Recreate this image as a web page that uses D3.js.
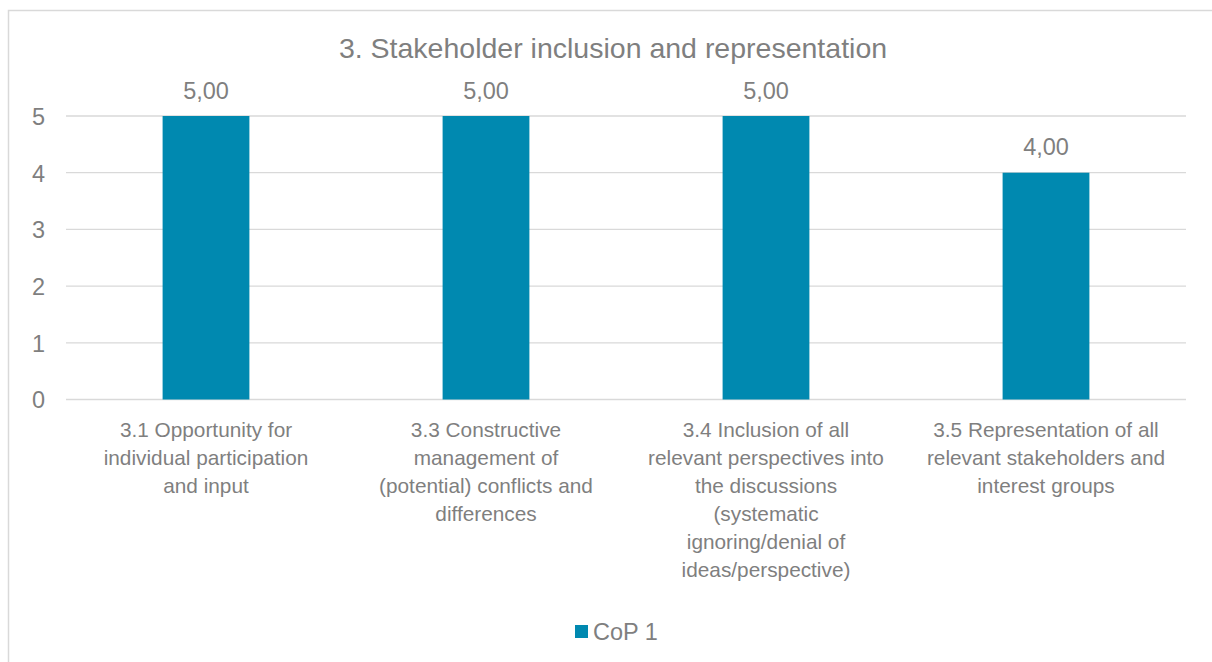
<!DOCTYPE html>
<html>
<head>
<meta charset="utf-8">
<script src="https://cdn.jsdelivr.net/npm/d3@7"></script>
<style>
  html, body { margin: 0; padding: 0; background: #fff; }
  svg { display: block; font-family: "Liberation Sans", Arial, sans-serif; }
</style>
</head>
<body>
<svg id="chart" width="1212" height="662"></svg>
<script>
// Chart data
const title = "3. Stakeholder inclusion and representation";
const categories = [
  "3.1 Opportunity for\nindividual participation\nand input",
  "3.3 Constructive\nmanagement of\n(potential) conflicts and\ndifferences",
  "3.4 Inclusion of all\nrelevant perspectives into\nthe discussions\n(systematic\nignoring/denial of\nideas/perspective)",
  "3.5 Representation of all\nrelevant stakeholders and\ninterest groups"
];
const values = [5, 5, 5, 4];
const seriesName = "CoP 1";
const yTicks = [0, 1, 2, 3, 4, 5];

const textColor = "#7f7f7f";
const barColor = "#0089b0";
const gridColor = "#d9d9d9";

const svg = d3.select("#chart");

// Outer chart border
svg.append("rect")
  .attr("x", 8.5).attr("y", 10.5)
  .attr("width", 1220).attr("height", 680)
  .attr("fill", "#fff")
  .attr("stroke", "#d9d9d9")
  .attr("stroke-width", 1.5);

const plot = { left: 66, right: 1186, top: 116, bottom: 399.5 };

const x = d3.scaleBand()
  .domain(categories)
  .range([plot.left, plot.right])
  .paddingInner(0.69)
  .paddingOuter(0.345);

const xBand = d3.scaleBand()
  .domain(categories)
  .range([plot.left, plot.right]);

const y = d3.scaleLinear()
  .domain([0, 5])
  .range([plot.bottom, plot.top]);

// Title
svg.append("text")
  .attr("x", 613).attr("y", 58)
  .attr("text-anchor", "middle")
  .attr("font-size", 28.5)
  .attr("fill", textColor)
  .text(title);

// Gridlines
svg.append("g")
  .selectAll("line")
  .data(yTicks)
  .join("line")
  .attr("x1", plot.left).attr("x2", plot.right)
  .attr("y1", d => y(d)).attr("y2", d => y(d))
  .attr("stroke", gridColor)
  .attr("stroke-width", 1.3);

// Y axis labels
const yAxis = d3.axisLeft(y).tickValues(yTicks).tickSize(0).tickPadding(0).tickFormat(d3.format("d"));
const yg = svg.append("g").attr("transform", `translate(45,0)`).call(yAxis);
yg.select(".domain").remove();
yg.selectAll("text")
  .attr("font-size", 23.5)
  .attr("font-family", "Liberation Sans, Arial, sans-serif")
  .attr("dy", "0.36em")
  .attr("fill", textColor);

// Bars
svg.append("g")
  .selectAll("rect")
  .data(values)
  .join("rect")
  .attr("x", (d, i) => x(categories[i]))
  .attr("width", x.bandwidth())
  .attr("y", d => y(d))
  .attr("height", d => y(0) - y(d))
  .attr("fill", barColor);

// Value labels
const fmt = d => d.toFixed(2).replace(".", ",");
svg.append("g")
  .selectAll("text")
  .data(values)
  .join("text")
  .attr("x", (d, i) => xBand(categories[i]) + xBand.bandwidth() / 2)
  .attr("y", d => y(d) - 17.5)
  .attr("text-anchor", "middle")
  .attr("font-size", 23.5)
  .attr("fill", textColor)
  .text(fmt);

// Category labels
const catG = svg.append("g")
  .selectAll("text")
  .data(categories)
  .join("text")
  .attr("x", d => xBand(d) + xBand.bandwidth() / 2)
  .attr("y", 437)
  .attr("text-anchor", "middle")
  .attr("font-size", 20.8)
  .attr("fill", textColor);
catG.selectAll("tspan")
  .data(d => d.split("\n").map(line => ({ line, cx: xBand(d) + xBand.bandwidth() / 2 })))
  .join("tspan")
  .attr("x", d => d.cx)
  .attr("dy", (d, i) => i === 0 ? 0 : 28)
  .text(d => d.line);

// Legend
const legend = svg.append("g");
legend.append("rect")
  .attr("x", 575).attr("y", 625)
  .attr("width", 13).attr("height", 13)
  .attr("fill", barColor);
legend.append("text")
  .attr("x", 593).attr("y", 640)
  .attr("font-size", 23.5)
  .attr("fill", textColor)
  .text(seriesName);
</script>
</body>
</html>
